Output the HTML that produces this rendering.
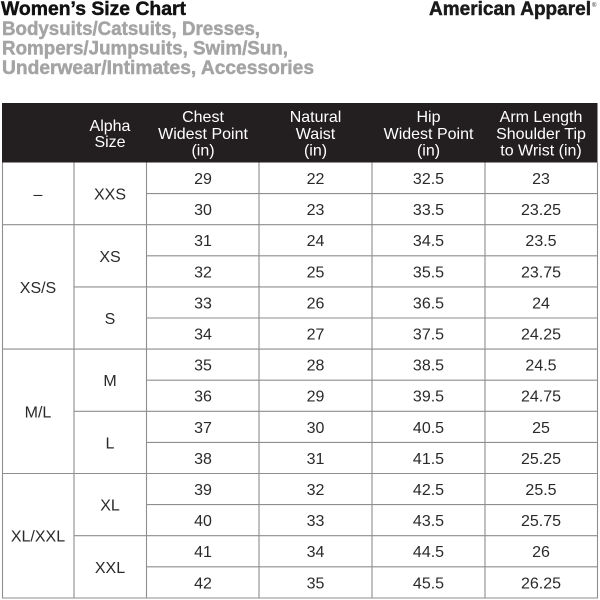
<!DOCTYPE html>
<html>
<head>
<meta charset="utf-8">
<style>
  html,body{margin:0;padding:0;background:#fff;}
  body{width:600px;height:600px;overflow:hidden;}
  svg{display:block;}
  text{font-family:"Liberation Sans", Arial, sans-serif;}
</style>
</head>
<body>
<svg width="600" height="600" viewBox="0 0 600 600" xmlns="http://www.w3.org/2000/svg">
  <rect x="0" y="0" width="600" height="600" fill="#fff"/>
  <!-- Titles -->
  <g font-weight="bold" font-size="19" stroke-width="0.45">
    <text x="1" y="15" fill="#111" stroke="#111" textLength="185" lengthAdjust="spacingAndGlyphs">Women’s Size Chart</text>
    <text x="2" y="35" fill="#a4a4a4" stroke="#a4a4a4" textLength="258" lengthAdjust="spacingAndGlyphs">Bodysuits/Catsuits, Dresses,</text>
    <text x="2" y="54.5" fill="#a4a4a4" stroke="#a4a4a4" textLength="286" lengthAdjust="spacingAndGlyphs">Rompers/Jumpsuits, Swim/Sun,</text>
    <text x="2" y="74" fill="#a4a4a4" stroke="#a4a4a4" textLength="312" lengthAdjust="spacingAndGlyphs">Underwear/Intimates, Accessories</text>
    <text x="429" y="15" fill="#1a1a1a" stroke="#1a1a1a" textLength="162" lengthAdjust="spacingAndGlyphs">American Apparel</text>
  </g>
  <text x="592" y="7" font-size="6" fill="#1a1a1a">®</text>

  <!-- Header -->
  <rect x="2" y="103" width="595.5" height="59.5" fill="#231f20"/>
  <g fill="#fff" font-size="16" text-anchor="middle">
    <text x="110" y="131">Alpha</text>
    <text x="110" y="147">Size</text>
    <text x="203" y="122">Chest</text>
    <text x="203" y="139">Widest Point</text>
    <text x="203" y="155.5">(in)</text>
    <text x="315.5" y="122">Natural</text>
    <text x="315.5" y="139">Waist</text>
    <text x="315.5" y="155.5">(in)</text>
    <text x="428.5" y="122">Hip</text>
    <text x="428.5" y="139">Widest Point</text>
    <text x="428.5" y="155.5">(in)</text>
    <text x="541" y="122">Arm Length</text>
    <text x="541" y="139">Shoulder Tip</text>
    <text x="541" y="155.5">to Wrist (in)</text>
  </g>

  <!-- Grid lines -->
  <g stroke="#8e8e8e" stroke-width="1.1" fill="none">
    <line x1="2.5" y1="162.5" x2="2.5" y2="598"/>
    <line x1="597.5" y1="162.5" x2="597.5" y2="598"/>
    <line x1="74" y1="162.5" x2="74" y2="598"/>
    <line x1="146.5" y1="162.5" x2="146.5" y2="598"/>
    <line x1="259" y1="162.5" x2="259" y2="598"/>
    <line x1="372" y1="162.5" x2="372" y2="598"/>
    <line x1="485" y1="162.5" x2="485" y2="598"/>
    <line x1="2" y1="598" x2="598" y2="598"/>
    <line x1="2" y1="224.7" x2="598" y2="224.7"/>
    <line x1="2" y1="349.1" x2="598" y2="349.1"/>
    <line x1="2" y1="473.5" x2="598" y2="473.5"/>
    <line x1="74" y1="286.9" x2="598" y2="286.9"/>
    <line x1="74" y1="411.3" x2="598" y2="411.3"/>
    <line x1="74" y1="535.7" x2="598" y2="535.7"/>
    <line x1="146.5" y1="193.6" x2="598" y2="193.6"/>
    <line x1="146.5" y1="255.8" x2="598" y2="255.8"/>
    <line x1="146.5" y1="318" x2="598" y2="318"/>
    <line x1="146.5" y1="380.2" x2="598" y2="380.2"/>
    <line x1="146.5" y1="442.4" x2="598" y2="442.4"/>
    <line x1="146.5" y1="504.6" x2="598" y2="504.6"/>
    <line x1="146.5" y1="566.8" x2="598" y2="566.8"/>
  </g>

  <!-- Body text -->
  <g fill="#2a2a2a" font-size="16" text-anchor="middle">
    <text x="38" y="199.6">–</text>
    <text x="38" y="292.9">XS/S</text>
    <text x="38" y="417.3">M/L</text>
    <text x="38" y="541.7">XL/XXL</text>
    <text x="110" y="199.6">XXS</text>
    <text x="110" y="261.8">XS</text>
    <text x="110" y="324">S</text>
    <text x="110" y="386.2">M</text>
    <text x="110" y="448.4">L</text>
    <text x="110" y="510.6">XL</text>
    <text x="110" y="572.8">XXL</text>

    <text x="203" y="184">29</text><text x="315.5" y="184">22</text><text x="428.5" y="184">32.5</text><text x="541" y="184">23</text>
    <text x="203" y="215.1">30</text><text x="315.5" y="215.1">23</text><text x="428.5" y="215.1">33.5</text><text x="541" y="215.1">23.25</text>
    <text x="203" y="246.2">31</text><text x="315.5" y="246.2">24</text><text x="428.5" y="246.2">34.5</text><text x="541" y="246.2">23.5</text>
    <text x="203" y="277.3">32</text><text x="315.5" y="277.3">25</text><text x="428.5" y="277.3">35.5</text><text x="541" y="277.3">23.75</text>
    <text x="203" y="308.4">33</text><text x="315.5" y="308.4">26</text><text x="428.5" y="308.4">36.5</text><text x="541" y="308.4">24</text>
    <text x="203" y="339.5">34</text><text x="315.5" y="339.5">27</text><text x="428.5" y="339.5">37.5</text><text x="541" y="339.5">24.25</text>
    <text x="203" y="370.6">35</text><text x="315.5" y="370.6">28</text><text x="428.5" y="370.6">38.5</text><text x="541" y="370.6">24.5</text>
    <text x="203" y="401.7">36</text><text x="315.5" y="401.7">29</text><text x="428.5" y="401.7">39.5</text><text x="541" y="401.7">24.75</text>
    <text x="203" y="432.8">37</text><text x="315.5" y="432.8">30</text><text x="428.5" y="432.8">40.5</text><text x="541" y="432.8">25</text>
    <text x="203" y="463.9">38</text><text x="315.5" y="463.9">31</text><text x="428.5" y="463.9">41.5</text><text x="541" y="463.9">25.25</text>
    <text x="203" y="495">39</text><text x="315.5" y="495">32</text><text x="428.5" y="495">42.5</text><text x="541" y="495">25.5</text>
    <text x="203" y="526.1">40</text><text x="315.5" y="526.1">33</text><text x="428.5" y="526.1">43.5</text><text x="541" y="526.1">25.75</text>
    <text x="203" y="557.2">41</text><text x="315.5" y="557.2">34</text><text x="428.5" y="557.2">44.5</text><text x="541" y="557.2">26</text>
    <text x="203" y="588.3">42</text><text x="315.5" y="588.3">35</text><text x="428.5" y="588.3">45.5</text><text x="541" y="588.3">26.25</text>
  </g>
</svg>
</body>
</html>
